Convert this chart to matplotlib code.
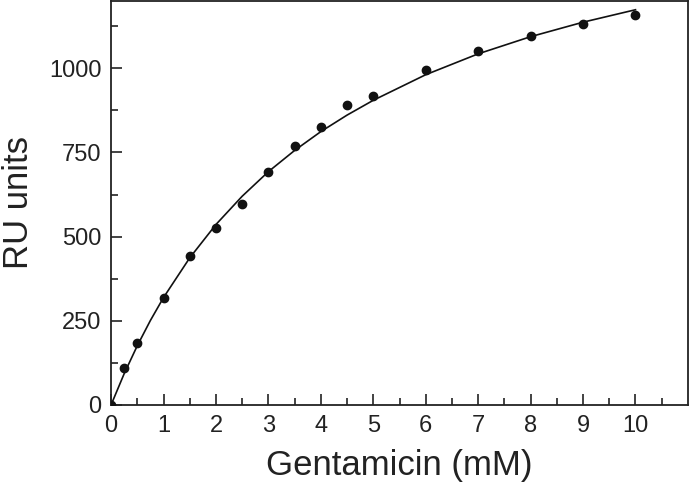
import numpy as np
import matplotlib.pyplot as plt

plt.rcParams['font.family'] = ['Liberation Sans', 'DejaVu Sans']

# measured points
conc = [0, 0.25, 0.5, 1, 1.5, 2, 2.5, 3, 3.5, 4, 4.5, 5, 6, 7, 8, 9, 10]
ru = [0, 110, 183, 317, 441, 526, 596, 693, 768, 826, 892, 919, 995, 1051, 1096, 1131, 1159]

# fitted curve
fit_x = [0, 0.25, 0.5, 0.75, 1, 1.5, 2, 2.5, 3, 3.5, 4, 4.5, 5, 6, 7, 8, 9, 10]
fit_y = [0, 93, 176, 251, 319, 437, 536, 620, 693, 756, 812, 861, 905, 981, 1043, 1094, 1137, 1174]

fig = plt.figure(figsize=(6.9, 4.95), dpi=100)
ax = fig.add_axes([0.161, 0.182, 0.836, 0.816])

ax.plot(fit_x, fit_y, color='#111111', lw=1.2, zorder=2)
ax.plot(conc, ru, 'o', color='#111111', ms=6, zorder=3)

ax.set_xlim(0, 11)
ax.set_ylim(0, 1200)
ax.set_xticks(np.arange(0, 11, 1))
ax.set_xticks(np.arange(0.5, 11, 1), minor=True)
ax.set_yticks([0, 250, 500, 750, 1000])
ax.set_yticks([125, 375, 625, 875, 1125], minor=True)

ax.tick_params(which='both', direction='in', top=False, right=False,
               labelsize=17, width=1.2, colors='#222222')
ax.tick_params(which='major', length=8, pad=7)
ax.tick_params(which='minor', length=5)
for s in ax.spines.values():
    s.set_linewidth(1.3)
    s.set_color('#222222')

ax.set_xlabel('Gentamicin (mM)', fontsize=25, labelpad=9, color='#222222')
ax.set_ylabel('RU units', fontsize=25, labelpad=10, color='#222222')

fig.savefig('out.png', dpi=100)
